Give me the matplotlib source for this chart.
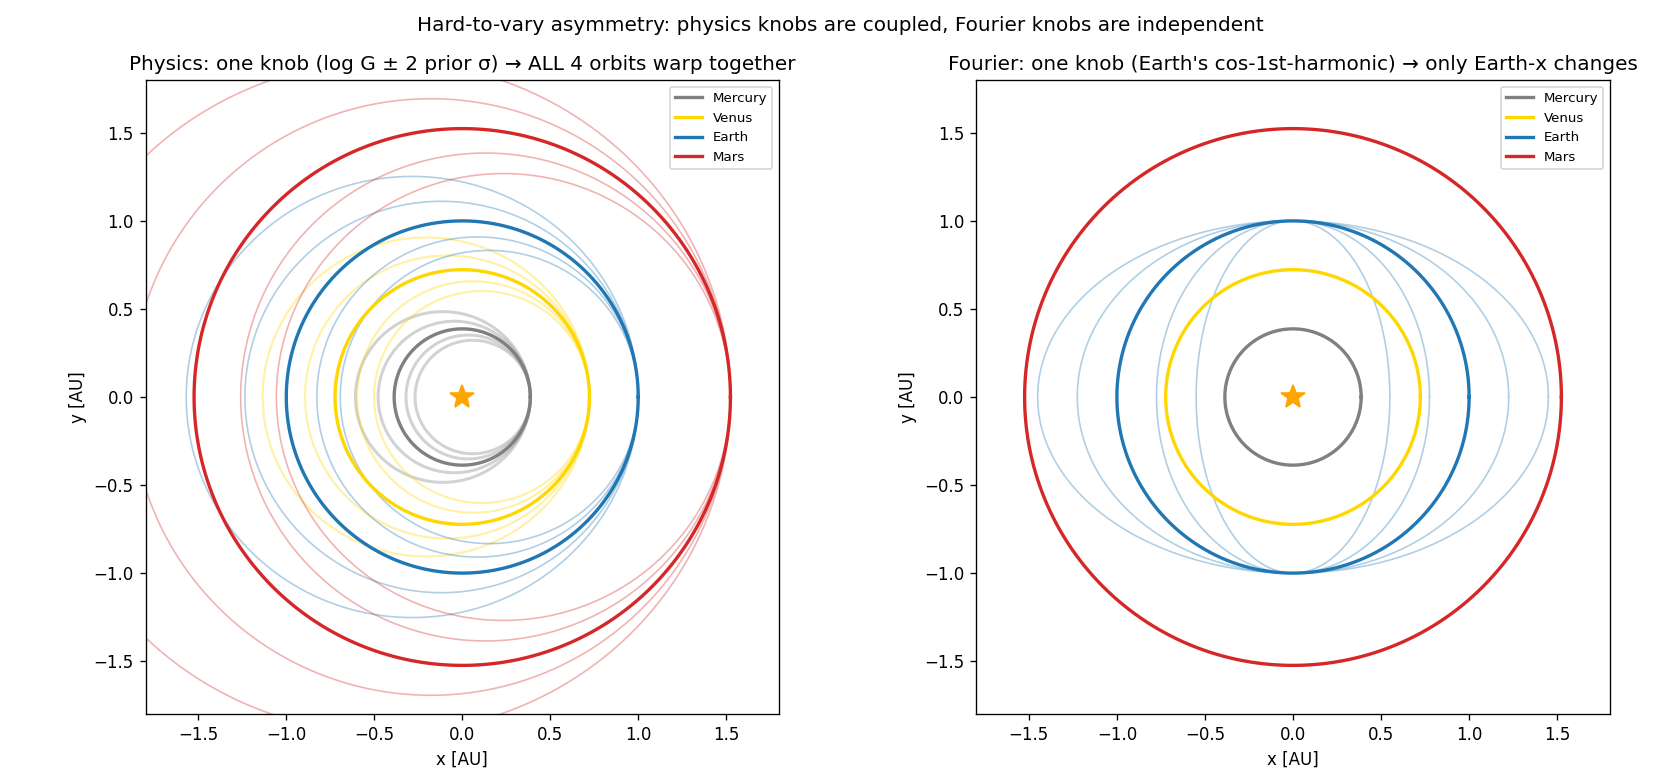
import numpy as np
import matplotlib
matplotlib.use("Agg")
import matplotlib.pyplot as plt

# ---- data ----
planets = ["Mercury", "Venus", "Earth", "Mars"]
semi_major_au = [0.387, 0.723, 1.0, 1.524]
planet_colors = ["gray", "gold", "tab:blue", "tab:red"]
# physics knob: log G offsets (+-1, +-2 prior sigma, sigma = 0.1)
logG_offsets = [-0.2, -0.1, 0.1, 0.2]
# Fourier knob: Earth's cos-1st-harmonic x amplitude (+-1, +-2 prior sigma)
earth_x_amp = [0.55, 0.775, 1.225, 1.45]

t = np.linspace(0, 2 * np.pi, 721)


def kepler_orbit(a, gfac):
    """Orbit started at (a, 0) with the nominal circular speed, but gravity scaled by gfac."""
    A = a * gfac / (2 * gfac - 1)
    b = a / np.sqrt(2 * gfac - 1)
    xc = a - A
    return xc + A * np.cos(t), b * np.sin(t)


fig = plt.figure(figsize=(14, 6.5), dpi=120)
axL = fig.add_axes([145.5 / 1680, (780 - 714) / 780, 633.5 / 1680, 634 / 780])
axR = fig.add_axes([976 / 1680, (780 - 714) / 780, 634 / 1680, 634 / 780])

# ---- left: physics ----
for name, a, c in zip(planets, semi_major_au, planet_colors):
    flw = 1.8 if name == "Mercury" else (1.3 if name == "Venus" else 1.0)
    for d in logG_offsets:
        x, y = kepler_orbit(a, np.exp(d))
        axL.plot(x, y, color=c, lw=flw, alpha=0.35, zorder=1)
for name, a, c in zip(planets, semi_major_au, planet_colors):
    x, y = kepler_orbit(a, 1.0)
    axL.plot(x, y, color=c, lw=2.0, label=name, zorder=2)
axL.plot(0, 0, marker="*", color="orange", ms=15, ls="none", zorder=3)

# ---- right: Fourier ----
ea = semi_major_au[2]
for k in earth_x_amp:
    axR.plot(k * np.cos(t), ea * np.sin(t), color="tab:blue", lw=1.0, alpha=0.35, zorder=1)
for name, a, c in zip(planets, semi_major_au, planet_colors):
    axR.plot(a * np.cos(t), a * np.sin(t), color=c, lw=2.0, label=name, zorder=2)
axR.plot(0, 0, marker="*", color="orange", ms=15, ls="none", zorder=3)

for ax in (axL, axR):
    ax.set_xlim(-1.8, 1.8)
    ax.set_ylim(-1.8, 1.8)
    ax.set_xlabel("x [AU]")
    ax.set_ylabel("y [AU]")
    ax.legend(loc="upper right", fontsize=8)

axL.set_title("Physics: one knob (log G \u00b1 2 prior \u03c3) \u2192 ALL 4 orbits warp together")
axR.set_title("Fourier: one knob (Earth's cos-1st-harmonic) \u2192 only Earth-x changes")
fig.suptitle("Hard-to-vary asymmetry: physics knobs are coupled, Fourier knobs are independent",
             fontsize=12, y=0.98)

fig.savefig("out.png", dpi=120)
